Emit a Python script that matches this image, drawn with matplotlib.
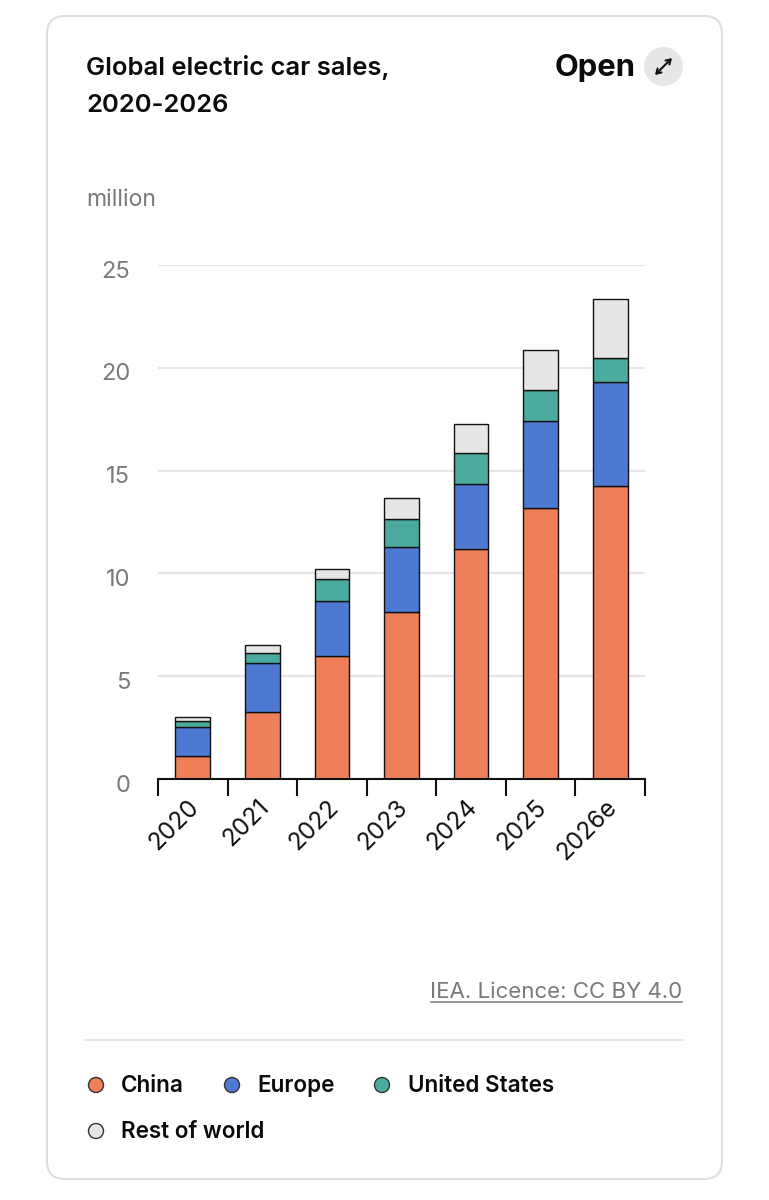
import matplotlib
matplotlib.use("Agg")
import matplotlib.pyplot as plt
from matplotlib.patches import FancyBboxPatch, Circle
from matplotlib.transforms import ScaledTranslation

plt.rcParams['font.family'] = ['Inter', 'DejaVu Sans']

years = ['2020', '2021', '2022', '2023', '2024', '2025', '2026e']
china = [1.12, 3.28, 5.97, 8.12, 11.17, 13.2, 14.25]
europe = [1.4, 2.35, 2.7, 3.15, 3.2, 4.2, 5.05]
united_states = [0.3, 0.5, 1.05, 1.4, 1.5, 1.5, 1.2]
rest_of_world = [0.2, 0.4, 0.5, 1.0, 1.4, 1.95, 2.85]
series_names = ['China', 'Europe', 'United States', 'Rest of world']
colors = ['#EF7F58', '#4E79D2', '#4BAB9E', '#E6E6E6']
yticks = [0, 5, 10, 15, 20, 25]

W, H = 769, 1200
fig = plt.figure(figsize=(W / 100, H / 100), dpi=100, facecolor='white')

# pixel-coordinate overlay for the card furniture
bg = fig.add_axes([0, 0, 1, 1], zorder=0)
bg.set_xlim(0, W)
bg.set_ylim(H, 0)
bg.axis('off')
bg.add_patch(FancyBboxPatch((47, 16), 675, 1163, boxstyle='round,pad=0,rounding_size=18',
                            fc='white', ec='#DEDEDE', lw=1.5))
bg.plot([86, 682], [1039.5, 1039.5], color='#E3E3E3', lw=1.5)

bg.text(86, 67, 'Global electric car sales,', fontsize=18.4, fontweight=600, color='#0B0B0B', va='center')
bg.text(86, 105, '2020-2026', fontsize=18.4, fontweight=600, color='#0B0B0B', va='center')
bg.text(636, 68, 'Open', fontsize=22.3, fontweight=700, color='#0B0B0B', va='center', ha='right')
bg.add_patch(Circle((663.5, 66.5), 19.5, fc='#E6E6E6', ec='none'))
bg.annotate('', xy=(672, 58), xytext=(655, 75),
            arrowprops=dict(arrowstyle='<->,head_length=0.32,head_width=0.2', lw=1.5,
                            color='#111111', shrinkA=0, shrinkB=0))
bg.text(86, 200, 'million', fontsize=16.6, color='#7A7A7A', va='center')
bg.text(682, 992, 'IEA. Licence: CC BY 4.0', fontsize=16, color='#7A7A7A', va='center', ha='right')
bg.plot([431, 682], [1002, 1002], color='#7A7A7A', lw=1.1)

# chart
ax = fig.add_axes([158 / W, 1 - 779 / H, (645 - 158) / W, (779 - 265) / H], zorder=1)
ax.patch.set_alpha(0)
x = list(range(len(years)))
bottom = [0.0] * len(years)
for vals, c, name in zip([china, europe, united_states, rest_of_world], colors, series_names):
    ax.bar(x, vals, bottom=bottom, width=0.5, color=c, edgecolor='#111111', linewidth=1.0, label=name, zorder=3)
    bottom = [b + v for b, v in zip(bottom, vals)]

ax.set_xlim(-0.5, len(years) - 0.5)
ax.set_ylim(0, 25)
ax.set_yticks(yticks)
ax.set_yticklabels([str(t) for t in yticks])
ax.yaxis.grid(True, color='#E5E5E5', lw=1.6, zorder=0)
ax.xaxis.grid(False)
ax.tick_params(axis='y', length=0, pad=20, labelsize=17, labelcolor='#7A7A7A')
shift = ScaledTranslation(0, -4 / 100, fig.dpi_scale_trans)
for lab in ax.get_yticklabels():
    lab.set_transform(lab.get_transform() + shift)
ax.set_xticks([i - 0.5 for i in range(len(years) + 1)])
ax.set_xticklabels([''] * (len(years) + 1))
ax.tick_params(axis='x', length=12, width=1.5, color='#111111')
for s in ['top', 'right', 'left']:
    ax.spines[s].set_visible(False)
ax.spines['bottom'].set_linewidth(1.5)
ax.spines['bottom'].set_color('#111111')
ax.spines['bottom'].set_zorder(5)
ax.set_axisbelow(True)
for i, lab in enumerate(years):
    ax.annotate(lab, xy=(i, 0), xycoords=('data', 'axes fraction'),
                xytext=(-4, -12), textcoords='offset points',
                rotation=45, rotation_mode='anchor', ha='right', va='top',
                fontsize=17.5, color='#111111')

# legend
legend_pos = [(96, 1085, 121), (232, 1085, 257), (382, 1085, 408), (96, 1131, 121)]
for (cx, cy, tx), c, name in zip(legend_pos, colors, series_names):
    bg.add_patch(Circle((cx, cy), 7.5, fc=c, ec='#333333', lw=1.0))
    bg.text(tx, cy + 1, name, fontsize=16.2, fontweight=600, color='#0B0B0B', va='center')

fig.savefig('out.png', dpi=100, facecolor='white')
